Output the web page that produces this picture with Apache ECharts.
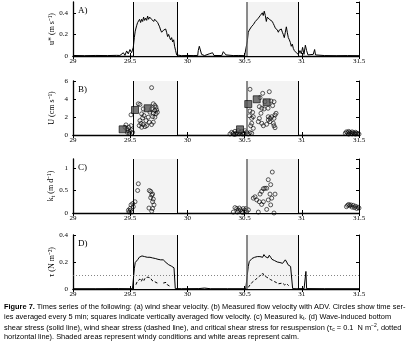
<!DOCTYPE html>
<html><head><meta charset="utf-8">
<script src="https://cdn.jsdelivr.net/npm/echarts@6/dist/echarts.min.js"></script>
<style>html,body{margin:0;padding:0;background:#fff}#c{width:413px;height:354px}</style>
</head><body><div id="c"></div>
<script>
// ---- data ----
const xTicks = [29, 29.5, 30, 30.5, 31, 31.5];
const windyStart = [29.527, 30.52];
const windyEnd = [29.91, 30.97];
const panelLabels = ['A)', 'B)', 'C)', 'D)'];

// A) wind shear velocity u*
const tA = [29.0,29.1,29.2,29.3,29.381,29.396,29.41,29.44,29.454,29.469,29.483,29.498,29.512,29.527,
29.536,29.544,29.556,29.565,29.574,29.582,29.591,29.6,29.609,29.617,29.626,29.635,29.644,29.652,29.661,29.67,29.679,29.687,29.696,29.705,29.714,29.722,29.731,29.74,29.748,29.757,29.766,29.775,29.783,29.792,29.801,29.81,29.818,29.827,29.836,29.845,29.853,29.862,29.871,29.88,29.888,29.897,29.906,
29.92,29.95,30.0,30.05,30.09,30.095,30.104,30.116,30.124,30.15,30.191,30.203,30.22,30.232,30.3,30.314,30.328,30.337,30.4,30.45,30.5,30.512,
30.524,30.532,30.541,30.55,30.559,30.567,30.576,30.585,30.594,30.602,30.611,30.62,30.629,30.637,30.646,30.655,30.663,30.672,30.681,30.69,30.698,30.707,30.716,30.725,30.733,30.742,30.751,30.76,30.768,30.777,30.786,30.795,30.803,30.812,30.821,30.83,30.838,30.847,30.856,30.865,30.873,30.882,30.891,30.9,30.908,30.917,30.926,30.935,30.944,30.952,30.961,30.97,
30.984,30.996,31.007,31.019,31.031,31.042,31.054,31.1,31.112,31.12,31.2,31.3,31.4,31.5];
const uA = [0.005,0.003,0.005,0.004,0.006,0.022,0.005,0.03,0.006,0.047,0.02,0.06,0.03,0.08,
0.17,0.23,0.28,0.31,0.32,0.34,0.31,0.34,0.32,0.36,0.33,0.35,0.33,0.37,0.34,0.36,0.375,0.34,0.35,0.32,0.34,0.33,0.33,0.31,0.32,0.27,0.24,0.22,0.23,0.24,0.23,0.25,0.22,0.18,0.2,0.17,0.15,0.17,0.13,0.15,0.09,0.05,0.01,
0.004,0.003,0.005,0.004,0.005,0.05,0.09,0.08,0.015,0.004,0.02,0.01,0.03,0.005,0.004,0.04,0.04,0.01,0.004,0.005,0.003,0.015,
0.14,0.22,0.24,0.25,0.27,0.28,0.29,0.30,0.32,0.33,0.33,0.35,0.36,0.375,0.385,0.40,0.375,0.415,0.375,0.32,0.36,0.365,0.34,0.33,0.34,0.32,0.30,0.28,0.26,0.27,0.24,0.22,0.24,0.23,0.25,0.22,0.2,0.17,0.22,0.27,0.22,0.17,0.15,0.125,0.09,0.11,0.07,0.05,0.06,0.03,0.04,0.015,
0.05,0.02,0.08,0.015,0.1,0.05,0.01,0.015,0.06,0.01,0.004,0.003,0.004,0.003];

// B) flow velocity U: circles (5-min averages) and squares (vertical averages)
const tBc = [29.454,29.463,29.472,29.48,29.489,29.498,29.507,29.512,29.521,29.475,29.492,
29.507,29.571,29.585,29.687,29.702,29.716,29.725,29.731,29.737,29.716,29.702,29.687,29.673,29.725,29.696,29.716,29.702,29.687,29.614,29.6,29.609,29.62,29.585,29.594,29.579,29.6,29.614,29.629,29.644,29.638,29.658,29.667,
30.372,30.387,30.401,30.416,30.43,30.445,30.46,30.474,30.489,30.503,30.518,30.532,30.547,30.562,30.407,30.42,30.452,30.482,30.496,30.438,
30.547,30.658,30.716,30.635,30.731,30.757,30.745,30.629,30.65,30.67,30.705,30.547,30.57,30.541,30.562,30.576,30.643,30.629,30.62,30.65,30.664,30.707,30.722,30.737,30.775,30.766,30.757,30.751,30.757,30.766,30.562,30.553,30.576,30.707,30.722,30.693,30.678,
31.38,31.39,31.4,31.41,31.42,31.43,31.44,31.45,31.46,31.47,31.48,31.49,31.5,31.41,31.44,31.47];
const uBc = [0.86,1.12,0.67,0.48,0.86,0.41,1.04,0.56,0.3,0.3,0.22,
2.24,3.47,3.39,5.26,3.47,3.28,3.09,2.8,2.53,2.72,2.42,2.9,2.53,2.35,2.05,1.98,1.42,1.16,2.9,2.35,1.9,2.16,1.6,1.3,1.04,0.86,1.16,0.93,1.04,1.6,1.98,1.42,
0.11,0.3,0.19,0.41,0.22,0.48,0.3,0.41,0.19,0.48,0.3,0.11,0.26,0.19,0.07,0.08,0.12,0.1,0.2,0.15,
5.08,4.63,4.81,4.15,3.78,3.7,3.26,3.15,2.97,2.89,2.97,2.67,2.52,2.14,1.85,2.03,2.41,1.85,1.48,1.3,1.03,2.03,1.85,2.03,2.41,2.22,1.85,1.3,1.03,0.81,1.3,1.03,0.74,1.67,1.48,1.19,3.7,
0.2,0.35,0.25,0.4,0.3,0.2,0.35,0.25,0.15,0.3,0.2,0.15,0.1,0.1,0.12,0.1];
const tBs = [29.434,29.542,29.653,30.46,30.532,30.606,30.693];
const uBs = [0.63,2.78,2.97,0.63,3.44,3.97,3.63];

// C) measured k_t
const tC = [29.513,29.484,29.498,29.507,29.527,29.522,29.542,29.49,29.501,29.571,29.565,
29.667,29.679,29.688,29.696,29.679,29.702,29.696,29.708,29.696,29.664,29.688,
30.401,30.416,30.431,30.445,30.454,30.466,30.478,30.489,30.503,30.518,30.533,30.437,30.483,30.512,
30.742,30.707,30.728,30.678,30.664,30.693,30.649,30.635,30.591,30.576,30.606,30.629,30.649,30.664,30.722,30.766,30.737,30.707,30.728,30.693,30.62,30.757,
31.39,31.4,31.41,31.42,31.43,31.44,31.45,31.46,31.47,31.48,31.49,31.5];
const kC = [0.02,0.06,0.1,0.18,0.14,0.21,0.25,0.02,0.06,0.65,0.5,
0.5,0.48,0.4,0.42,0.34,0.31,0.25,0.18,0.1,0.11,0.04,
0.02,0.12,0.1,0.06,0.11,0.07,0.03,0.1,0.06,0.03,0.07,0.02,0.01,0.1,
0.91,0.74,0.63,0.55,0.54,0.55,0.48,0.42,0.36,0.33,0.29,0.25,0.19,0.25,0.42,0.42,0.33,0.29,0.18,0.08,0.02,0.0,
0.14,0.17,0.19,0.16,0.18,0.13,0.17,0.12,0.15,0.1,0.13,0.11];

// D) wave-induced bottom shear stress (solid) and wind shear stress (dashed)
const tDw = [29.0,29.2,29.4,29.52,29.533,29.536,29.544,29.556,29.568,29.579,29.591,29.603,29.614,29.626,29.638,29.649,29.661,29.673,29.684,29.696,29.708,29.719,29.731,29.743,29.754,29.766,29.778,29.789,29.801,29.813,29.824,29.836,29.848,29.859,29.871,29.883,29.891,29.894,
29.95,30.1,30.15,30.2,30.35,30.51,30.526,30.532,30.541,30.553,30.565,30.576,30.588,30.6,30.611,30.623,30.634,30.646,30.658,30.669,30.681,30.693,30.704,30.716,30.728,30.739,30.751,30.763,30.774,30.786,30.798,30.809,30.821,30.832,30.844,30.856,30.868,30.879,30.891,30.902,30.914,30.92,
30.95,31.02,31.031,31.036,31.042,31.2,31.5];
const tauW = [0.002,0.002,0.003,0.002,0.003,0.15,0.196,0.21,0.22,0.235,0.228,0.245,0.235,0.24,0.25,0.235,0.245,0.235,0.245,0.23,0.24,0.226,0.23,0.22,0.216,0.216,0.21,0.216,0.206,0.196,0.2,0.18,0.19,0.17,0.175,0.157,0.155,0.003,
0.002,0.003,0.007,0.002,0.002,0.002,0.01,0.167,0.204,0.216,0.226,0.23,0.235,0.23,0.24,0.245,0.24,0.25,0.235,0.255,0.24,0.245,0.23,0.25,0.235,0.22,0.226,0.21,0.216,0.2,0.206,0.196,0.2,0.19,0.2,0.216,0.2,0.18,0.175,0.167,0.157,0.003,
0.002,0.003,0.003,0.13,0.003,0.002,0.002];
const tDa = [29.55,29.562,29.574,29.585,29.597,29.609,29.62,29.632,29.644,29.655,29.667,29.679,29.69,29.702,29.714,29.725,29.737,29.748,29.768,29.789,29.801,29.813,29.824,29.836,29.848,
29.86,30.53,30.532,30.541,30.559,30.576,30.594,30.611,30.629,30.646,30.658,30.669,30.681,30.693,30.71,30.728,30.745,30.763,30.78,30.798,30.815,30.832,30.85,30.868,30.885];
const tauA = [0.032,0.056,0.064,0.074,0.056,0.079,0.064,0.083,0.069,0.088,0.074,0.081,0.064,0.069,0.054,0.064,0.044,0.054,null,0.044,0.039,0.049,0.032,0.025,0.02,
null,null,0.012,0.025,0.044,0.054,0.069,0.064,0.093,0.103,0.118,0.098,0.108,0.088,0.079,0.069,0.059,0.054,0.044,0.039,0.032,0.044,0.03,0.039,0.025];
const tauCrit = 0.1;

// ---- chart ----
const zip = (a, b) => a.map((t, i) => [t, b[i]]);
const gridTops = [2, 81, 159, 235];
const H = 54;
const yCfg = [
  {max: 0.5, interval: 0.2, name: 'u* (m s⁻¹)'},
  {max: 6, interval: 2, name: 'U (cm s⁻¹)'},
  {max: 1.2, interval: 0.5, name: '{n|k}{s|t}{n| (m d⁻¹)}'},
  {max: 0.4, interval: 0.2, name: 'τ (N m⁻²)'}
];
const serif = 'Liberation Serif';
const grids = [], xAxes = [], yAxes = [];
gridTops.forEach((top, i) => {
  grids.push({left: 73, right: 54, top: top, height: H, containLabel: false});
  const xb = {
    type: 'value', gridIndex: i, min: 29, max: 31.5, interval: 0.5, position: 'bottom',
    axisLine: {lineStyle: {color: '#000', width: 1.3}},
    axisTick: {inside: true, length: 3, lineStyle: {color: '#000'}},
    axisLabel: {fontFamily: serif, fontSize: 7, color: '#000', margin: 2,
      formatter: v => String(v)},
    splitLine: {show: false}
  };
  const xt = {
    type: 'value', gridIndex: i, min: 29, max: 31.5, interval: 0.5, position: 'top',
    axisLine: {lineStyle: {color: '#000', width: 1}},
    axisTick: {inside: true, length: 3, lineStyle: {color: '#000'}},
    axisLabel: {show: false}, splitLine: {show: false}
  };
  xAxes.push(xb, xt);
  const c = yCfg[i];
  const yl = {
    type: 'value', gridIndex: i, min: 0, max: c.max, interval: c.interval, position: 'left',
    name: c.name, nameLocation: 'middle', nameGap: 17, nameRotate: 90, nameMoveOverlap: false,
    nameTextStyle: {fontFamily: serif, fontSize: 8, color: '#000',
      rich: {n: {fontFamily: serif, fontSize: 8, color: '#000'}, s: {fontFamily: serif, fontSize: 6, color: '#000', padding: [4, 0, 0, 0]}}},
    axisLine: {lineStyle: {color: '#000', width: 1.3}},
    axisTick: {inside: true, length: 3, lineStyle: {color: '#000'}},
    axisLabel: {fontFamily: serif, fontSize: 7, color: '#000', margin: 5, showMaxLabel: c.max % c.interval === 0,
      formatter: v => String(v)},
    splitLine: {show: false}
  };
  const yr = {
    type: 'value', gridIndex: i, min: 0, max: c.max, interval: c.interval, position: 'right',
    axisLine: {lineStyle: {color: '#000', width: 1}},
    axisTick: {inside: true, length: 3, lineStyle: {color: '#000'}},
    axisLabel: {show: false}, splitLine: {show: false}
  };
  yAxes.push(yl, yr);
});

function shade(extraLines) {
  return {
    markArea: {silent: true, itemStyle: {color: '#f3f3f3'},
      data: windyStart.map((s, k) => [{xAxis: s}, {xAxis: windyEnd[k]}])},
    markLine: {silent: true, symbol: 'none', label: {show: false}, animation: false,
      lineStyle: {color: '#000', width: 1, type: 'solid'},
      data: [
        {xAxis: windyStart[0]}, {xAxis: windyEnd[0]},
        {xAxis: windyStart[1], lineStyle: {color: '#666', width: 1.5, type: 'solid'}}, {xAxis: windyEnd[1]}
      ].concat(extraLines || [])}
  };
}

const circleStyle = {color: 'rgba(255,255,255,0)', borderColor: '#000', borderWidth: 0.8};
const series = [
  Object.assign({type: 'line', xAxisIndex: 0, yAxisIndex: 0, data: zip(tA, uA), showSymbol: false,
    lineStyle: {color: '#000', width: 1}, animation: false}, shade()),
  Object.assign({type: 'scatter', xAxisIndex: 2, yAxisIndex: 2, data: zip(tBc, uBc), symbol: 'circle', symbolSize: 4,
    itemStyle: circleStyle, animation: false}, shade()),
  {type: 'scatter', xAxisIndex: 2, yAxisIndex: 2, data: zip(tBs, uBs), symbol: 'rect', symbolSize: 7,
    itemStyle: {color: '#555', borderColor: '#000', borderWidth: 0.8}, animation: false, z: 5},
  Object.assign({type: 'scatter', xAxisIndex: 4, yAxisIndex: 4, data: zip(tC, kC), symbol: 'circle', symbolSize: 4,
    itemStyle: circleStyle, animation: false}, shade()),
  Object.assign({type: 'line', xAxisIndex: 6, yAxisIndex: 6, data: zip(tDw, tauW), showSymbol: false,
    lineStyle: {color: '#000', width: 1}, animation: false},
    shade([{yAxis: tauCrit, lineStyle: {color: '#666', width: 0.8, type: [1, 2]}}])),
  {type: 'line', xAxisIndex: 6, yAxisIndex: 6, data: zip(tDa, tauA), showSymbol: false, connectNulls: false,
    lineStyle: {color: '#000', width: 1, type: [3, 2]}, animation: false}
];

const capFont = 'Liberation Sans Narrow, Liberation Sans, sans-serif';
const capRich = {
  b: {fontFamily: capFont, fontSize: 7.4, fontWeight: 'bold', fill: '#000'},
  sub: {fontFamily: capFont, fontSize: 5, fill: '#000', padding: [3, 0, 0, 0]},
  sup: {fontFamily: capFont, fontSize: 5, fill: '#000', padding: [0, 0, 4, 0]}
};
const capLines = [
  '{b|Figure 7.} Times series of the following: (a) wind shear velocity. (b) Measured flow velocity with ADV. Circles show time ser-',
  'ies averaged every 5 min; squares indicate vertically averaged flow velocity. (c) Measured k{sub|t}. (d) Wave-induced bottom',
  'shear stress (solid line), wind shear stress (dashed line), and critical shear stress for resuspension (τ{sub|c} = 0.1  N m{sup|−2}, dotted',
  'horizontal line). Shaded areas represent windy conditions and white areas represent calm.'
];
const capY = [308.5, 318.5, 328.5, 338];
const graphic = [];
capLines.forEach((t, i) => graphic.push({type: 'text', left: 4, top: capY[i] - 5,
  style: {text: t, fontFamily: capFont, fontSize: 7.4, fill: '#000', rich: capRich}}));
panelLabels.forEach((t, i) => graphic.push({type: 'text', left: 78, top: gridTops[i] + 4,
  style: {text: t, fontFamily: serif, fontSize: 9, fill: '#000'}}));

const chart = echarts.init(document.getElementById('c'), null, {renderer: 'canvas'});
chart.setOption({animation: false, grid: grids, xAxis: xAxes, yAxis: yAxes, series: series, graphic: graphic});
</script></body></html>
